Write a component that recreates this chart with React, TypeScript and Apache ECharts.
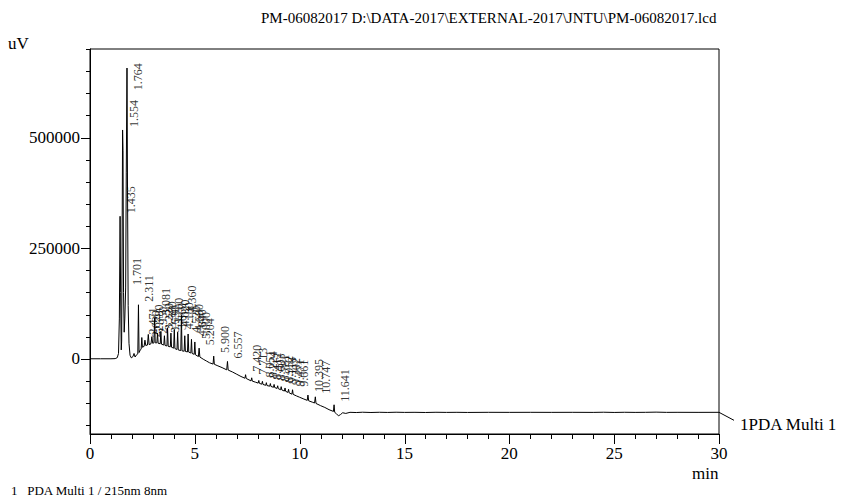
import { useEffect, useRef } from "react";
import * as echarts from "echarts";

const chartTitle = "PM-06082017 D:\\DATA-2017\\EXTERNAL-2017\\JNTU\\PM-06082017.lcd";
const channelName = "1PDA Multi 1";
const footnote = "1   PDA Multi 1 / 215nm 8nm";
const yUnit = "uV";
const xUnit = "min";

const times = [
  0, 0.5, 1.0, 1.2, 1.3, 1.36, 1.4, 1.435, 1.46, 1.49, 1.51, 1.535, 1.554, 1.575, 1.6, 1.63, 1.66, 1.701, 1.73, 1.764,
  1.79, 1.82, 1.86, 1.91, 1.97, 2.05, 2.1, 2.15, 2.22, 2.28, 2.311, 2.34, 2.4, 2.44, 2.471, 2.5, 2.58, 2.62, 2.66, 2.74,
  2.78, 2.82, 2.91, 2.95, 2.99, 3.05, 3.081, 3.11, 3.19, 3.22, 3.25, 3.35, 3.38, 3.41, 3.52, 3.55, 3.58, 3.67, 3.7, 3.73,
  3.83, 3.86, 3.89, 3.99, 4.02, 4.05, 4.15, 4.18, 4.21, 4.33, 4.36, 4.39, 4.49, 4.52, 4.55, 4.65, 4.68, 4.71, 4.81, 4.84,
  4.87, 4.97, 5.0, 5.03, 5.17, 5.204, 5.24, 5.4, 5.55, 5.7, 5.87, 5.9, 5.93, 6.1, 6.3, 6.52, 6.557, 6.59, 6.8, 7.0,
  7.2, 7.39, 7.42, 7.45, 7.68, 7.713, 7.74, 7.9, 8.02, 8.051, 8.08, 8.19, 8.224, 8.25, 8.38, 8.412, 8.44, 8.57, 8.603, 8.63,
  8.75, 8.781, 8.81, 8.92, 8.952, 8.98, 9.09, 9.118, 9.15, 9.27, 9.302, 9.33, 9.44, 9.471, 9.5, 9.63, 9.661, 9.69, 9.85, 10.0,
  10.2, 10.36, 10.395, 10.43, 10.6, 10.71, 10.747, 10.78, 11.0, 11.2, 11.4, 11.61, 11.641, 11.67, 11.75, 11.85, 11.95, 12.05, 12.2, 12.4,
  12.7, 13.0, 13.4, 13.8, 14.2, 14.6, 15.0, 15.5, 16.0, 16.5, 17.0, 17.5, 18.0, 19.0, 20.0, 21.0, 22.0, 23.0, 24.0, 24.5,
  25.0, 25.5, 26.0, 26.5, 27.0, 27.5, 28.0, 29.0, 30.0,
];

const signal = [
  0, 0, 0, 300, 2500, 12000, 90000, 322000, 150000, 20000, 40000, 300000, 517000, 470000, 150000, 60000, 90000, 160000, 420000, 657000,
  380000, 120000, 35000, 8000, 2000, 5000, 12000, 4000, 9000, 11000, 122000, 14000, 20000, 22000, 48000, 26000, 28000, 42000, 30000, 31000,
  55000, 32000, 34000, 50000, 35000, 36000, 92000, 36000, 36000, 58000, 35000, 34000, 62000, 33000, 31000, 52000, 30000, 29000, 70000, 28000,
  27000, 58000, 26000, 24000, 66000, 23000, 21000, 60000, 20000, 18500, 98000, 18000, 17000, 52000, 16500, 15500, 56000, 15000, 13000, 44000,
  12000, 10000, 38000, 9000, 5000, 24000, 4000, -1000, -5000, -9000, -12000, 6000, -12500, -16000, -20000, -25000, -6000, -25500, -30000, -35000,
  -40000, -44000, -36000, -44500, -50000, -43000, -50500, -53000, -55000, -49000, -55500, -57500, -51000, -58000, -60000, -54000, -60500, -62000, -56000, -62500,
  -64500, -58000, -65000, -67000, -61000, -67500, -70000, -63000, -70500, -73000, -66000, -73500, -76000, -69000, -77000, -80000, -70000, -80500, -84000, -87000,
  -91000, -94000, -82000, -95000, -98000, -100000, -86000, -101000, -106000, -110000, -115000, -119000, -104000, -121000, -124000, -129000, -126000, -122000, -123500, -121000,
  -121500, -120800, -121400, -120900, -121300, -120800, -121200, -121000, -121400, -120900, -121200, -121000, -121300, -121000, -121100, -121000, -121100, -121000, -121200, -120800,
  -121300, -120900, -121200, -121000, -120600, -121100, -121000, -121100, -121000,
];

const peakLabels = [
  "1.435", "1.554", "1.701", "1.764", "2.311", "2.471", "2.620", "2.780", "2.950", "3.081",
  "3.220", "3.380", "3.550", "3.700", "3.860", "4.020", "4.180", "4.360", "4.520", "4.680",
  "4.840", "5.000", "5.204", "5.900", "6.557", "7.420", "7.713", "8.051", "8.224", "8.412",
  "8.603", "8.781", "8.952", "9.118", "9.302", "9.471", "9.661", "10.395", "10.747", "11.641",
];

const xMin = 0;
const xMax = 30;
const xInterval = 5;
const xMajorTicks = [0, 5, 10, 15, 20, 25, 30];
const xMinorTicks = [
  1, 2, 3, 4, 6, 7, 8, 9, 11, 12, 13, 14, 16, 17, 18, 19, 21, 22, 23, 24, 26, 27, 28, 29,
];
const yMin = -170000;
const yMax = 700000;
const yMajorTicks = [0, 250000, 500000];
const yMinorTicks = [
  -150000, -100000, -50000, 50000, 100000, 150000, 200000, 300000, 350000, 400000,
  450000, 550000, 600000, 650000, 700000,
];

const FONT = "'Liberation Serif', 'Times New Roman', serif";
const LABEL_CAP = 600000;

export default function App() {
  const ref = useRef<HTMLDivElement>(null);

  useEffect(() => {
    if (!ref.current) return;
    const chart = echarts.init(ref.current, null, { renderer: "svg" });

    const lineData = times.map((t, i) => [t, signal[i]]);
    const labelData = peakLabels.map((lab) => {
      const t = parseFloat(lab);
      let best = 0;
      for (let i = 1; i < times.length; i++) {
        if (Math.abs(times[i] - t) < Math.abs(times[best] - t)) best = i;
      }
      return [times[best], Math.min(signal[best], LABEL_CAP), lab];
    });

    chart.setOption({
      animation: false,
      backgroundColor: "#fff",
      title: {
        text: chartTitle,
        left: 256,
        top: 5,
        textStyle: { fontFamily: FONT, fontSize: 15, fontWeight: "normal", color: "#000" },
      },
      grid: {
        left: 90,
        right: 122,
        top: 49,
        bottom: 67,
        show: true,
        borderColor: "#000",
        borderWidth: 1,
        backgroundColor: "transparent",
      },
      xAxis: {
        type: "value",
        min: xMin,
        max: xMax,
        interval: xInterval,
        axisLine: { show: true, onZero: false, lineStyle: { color: "#000", width: 1 } },
        axisTick: { show: false },
        minorTick: { show: false },
        splitLine: { show: false },
        axisLabel: { fontFamily: FONT, fontSize: 17, color: "#000", margin: 11 },
      },
      yAxis: {
        type: "value",
        min: yMin,
        max: yMax,
        axisLine: { show: true, onZero: false, lineStyle: { color: "#000", width: 1 } },
        axisTick: { show: false },
        axisLabel: {
          customValues: yMajorTicks,
          fontFamily: FONT,
          fontSize: 17,
          color: "#000",
          margin: 10,
          formatter: (v: number) => String(v),
        },
        splitLine: { show: false },
      },
      series: [
        {
          type: "line",
          data: lineData,
          showSymbol: false,
          symbol: "none",
          lineStyle: { color: "#000", width: 1 },
          silent: true,
        },
        {
          type: "scatter",
          data: labelData,
          symbolSize: 0,
          silent: true,
          label: {
            show: true,
            position: "inside",
            rotate: 90,
            align: "left",
            verticalAlign: "top",
            offset: [3, 5],
            fontFamily: FONT,
            fontSize: 12,
            color: "#000",
            formatter: (p: any) => p.data[2],
          },
        },
      ],
    });

    const px = (x: number, y: number) =>
      chart.convertToPixel({ xAxisIndex: 0, yAxisIndex: 0 }, [x, y]) as number[];
    const origin = px(xMin, yMin);
    const tickStyle = { stroke: "#000", lineWidth: 1 };
    const tickEls: any[] = [];
    xMajorTicks.forEach((v) => {
      const p = px(v, yMin);
      const x = Math.round(p[0]) + 0.5;
      tickEls.push({ type: "line", shape: { x1: x, y1: origin[1], x2: x, y2: origin[1] + 10 }, style: tickStyle });
    });
    xMinorTicks.forEach((v) => {
      const p = px(v, yMin);
      const x = Math.round(p[0]) + 0.5;
      tickEls.push({ type: "line", shape: { x1: x, y1: origin[1], x2: x, y2: origin[1] + 5 }, style: tickStyle });
    });
    yMajorTicks.forEach((v) => {
      const p = px(xMin, v);
      const y = Math.round(p[1]) + 0.5;
      tickEls.push({ type: "line", shape: { x1: origin[0] - 9, y1: y, x2: origin[0], y2: y }, style: tickStyle });
    });
    yMinorTicks.forEach((v) => {
      const p = px(xMin, v);
      const y = Math.round(p[1]) + 0.5;
      tickEls.push({ type: "line", shape: { x1: origin[0] - 4, y1: y, x2: origin[0], y2: y }, style: tickStyle });
    });

    const lastPt = px(times[times.length - 1], signal[signal.length - 1]);
    chart.setOption({
      graphic: [
        ...tickEls,
        { type: "text", left: 8, top: 35, style: { text: yUnit, font: `17px ${FONT}`, fill: "#000" } },
        { type: "text", left: 692, top: 465, style: { text: xUnit, font: `17px ${FONT}`, fill: "#000" } },
        { type: "text", left: 11, top: 484, style: { text: footnote, font: `13px ${FONT}`, fill: "#000" } },
        {
          type: "line",
          shape: { x1: lastPt[0], y1: lastPt[1], x2: lastPt[0] + 15, y2: lastPt[1] + 8 },
          style: { stroke: "#000", lineWidth: 1 },
        },
        {
          type: "text",
          x: lastPt[0] + 21,
          y: lastPt[1] + 12,
          style: { text: channelName, font: `17px ${FONT}`, fill: "#000", textVerticalAlign: "middle" },
        },
      ],
    });

    return () => chart.dispose();
  }, []);

  return <div ref={ref} style={{ position: "fixed", left: 0, top: 0, width: 841, height: 501 }} />;
}
